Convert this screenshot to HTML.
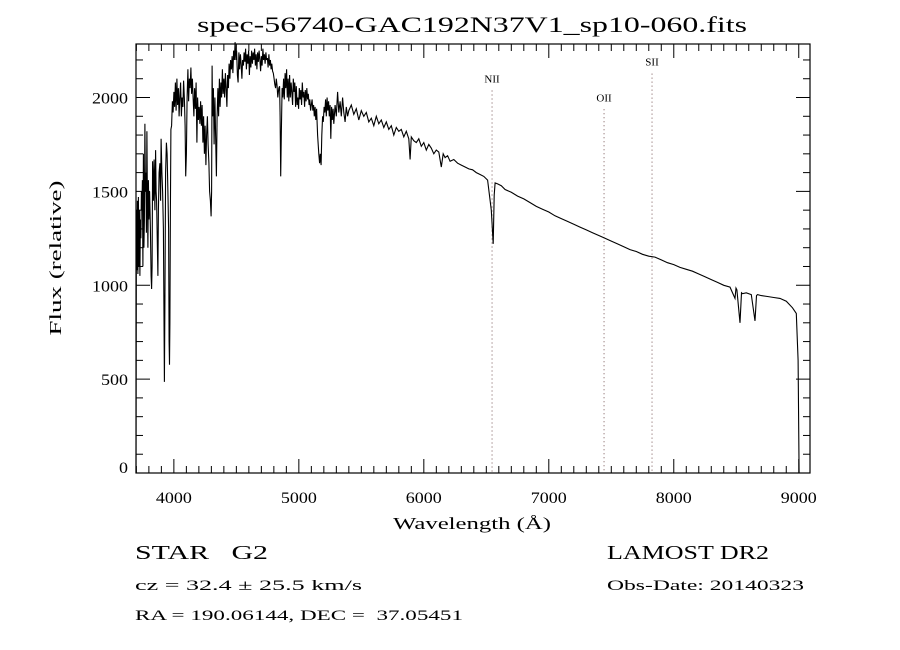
<!DOCTYPE html>
<html><head><meta charset="utf-8"><style>
html,body{margin:0;padding:0;background:#fff;}
svg{display:block;}
text{font-family:"Liberation Serif",serif;fill:#000;}
</style></head><body>
<svg id="chart" width="900" height="650" viewBox="0 0 900 650" xmlns="http://www.w3.org/2000/svg">
<rect width="900" height="650" fill="#fff"/>
<text x="197" y="32" font-size="22" textLength="550" lengthAdjust="spacingAndGlyphs">spec-56740-GAC192N37V1_sp10-060.fits</text>
<text transform="translate(61,258) rotate(-90)" font-size="17" text-anchor="middle" textLength="155" lengthAdjust="spacingAndGlyphs">Flux (relative)</text>
<text x="393" y="529" font-size="17" textLength="158" lengthAdjust="spacingAndGlyphs">Wavelength (Å)</text>
<text x="135" y="559" font-size="20" textLength="133" lengthAdjust="spacingAndGlyphs" xml:space="preserve">STAR   G2</text>
<text x="607" y="559" font-size="20" textLength="162" lengthAdjust="spacingAndGlyphs">LAMOST DR2</text>
<text x="135" y="590" font-size="15" textLength="227" lengthAdjust="spacingAndGlyphs">cz = 32.4 ± 25.5 km/s</text>
<text x="607" y="590" font-size="15" textLength="197" lengthAdjust="spacingAndGlyphs">Obs-Date: 20140323</text>
<text x="135" y="620" font-size="15" textLength="328" lengthAdjust="spacingAndGlyphs" xml:space="preserve">RA = 190.06144, DEC =  37.05451</text>
<g id="plot"></g>
</svg>
<script>
const xTicks = [4000,5000,6000,7000,8000,9000];
const yTicks = [0,500,1000,1500,2000];
const lineNames = ["NII","OII","SII"];
const lineWaves = [6546,7442,7826];
const lineLabelFlux = [2080,1980,2170];
const wave = [3697,3700,3704,3708,3712,3716,3720,3724,3728,3732,3736,3740,3744,3748,3752,3756,3760,3764,3768,3772,3776,3780,3784,3788,3792,3796,3800,3806,3812,3818,3822,3826,3830,3836,3842,3848,3854,3858,3862,3868,3872,3876,3882,3888,3894,3898,3904,3910,3916,3920,3924,3928,3934,3940,3946,3952,3958,3962,3965,3968,3972,3976,3982,3988,3994,4000,4006,4012,4018,4024,4030,4036,4042,4048,4054,4060,4066,4072,4078,4084,4090,4095,4100,4106,4112,4118,4124,4130,4136,4142,4148,4154,4160,4166,4172,4178,4184,4190,4196,4202,4208,4214,4220,4226,4232,4238,4244,4250,4256,4262,4268,4274,4280,4286,4292,4298,4302,4306,4310,4316,4322,4328,4334,4340,4346,4352,4358,4364,4370,4376,4382,4388,4394,4400,4406,4412,4418,4424,4430,4436,4442,4448,4454,4460,4466,4472,4478,4484,4490,4496,4502,4508,4514,4520,4526,4532,4538,4544,4550,4556,4562,4568,4574,4580,4586,4592,4598,4604,4610,4616,4622,4628,4634,4640,4646,4652,4658,4664,4670,4676,4682,4688,4694,4700,4706,4712,4718,4724,4730,4736,4742,4748,4754,4760,4766,4772,4778,4784,4790,4796,4802,4808,4814,4820,4826,4832,4840,4846,4850,4855,4860,4866,4872,4878,4884,4890,4896,4902,4908,4914,4920,4926,4932,4938,4944,4950,4956,4962,4968,4974,4980,4986,4992,4998,5004,5010,5016,5022,5028,5034,5040,5046,5052,5058,5064,5070,5076,5082,5088,5094,5100,5106,5112,5118,5124,5130,5136,5142,5150,5160,5166,5172,5178,5184,5190,5196,5202,5208,5214,5220,5226,5232,5238,5244,5250,5256,5262,5268,5274,5280,5290,5300,5310,5320,5330,5340,5350,5360,5370,5380,5390,5400,5420,5440,5460,5480,5500,5520,5540,5560,5580,5600,5620,5640,5660,5680,5700,5720,5740,5760,5780,5800,5820,5840,5860,5880,5890,5900,5920,5940,5960,5980,6000,6020,6040,6060,6080,6100,6120,6140,6155,6170,6190,6210,6240,6270,6300,6330,6360,6390,6420,6450,6480,6510,6540,6555,6563,6570,6590,6620,6650,6700,6750,6800,6850,6900,6950,7000,7050,7100,7150,7200,7250,7300,7350,7400,7450,7500,7550,7600,7650,7700,7750,7800,7850,7900,7950,8000,8050,8100,8150,8200,8250,8300,8350,8400,8450,8490,8498,8505,8530,8542,8550,8580,8620,8650,8662,8670,8700,8750,8800,8850,8900,8950,8980,8995,9003,9006];
const flux = [0,1400,1080,1450,1060,1470,1100,1400,1050,1350,1250,1500,1400,1560,1100,1700,1200,1350,1860,1500,1600,1280,1820,1450,1200,1560,1350,1500,1300,1050,980,1100,1660,1450,1670,1400,1720,1500,1450,1200,1050,1400,1600,1650,1450,1780,1600,1500,1300,900,485,900,1600,1760,1700,1500,1300,700,577,800,1400,1830,1850,1980,1920,2030,1950,2080,1930,2100,1960,2050,1900,2010,2080,1900,2000,1950,2090,1990,1850,1580,1700,2000,2150,1980,2100,2050,2160,2020,2100,2000,1900,2050,1940,2080,1760,2000,1880,1950,1860,1980,1850,1960,1760,1900,1700,1850,1640,1800,1900,1750,1650,1500,1450,1367,1500,2170,1900,2050,1750,2000,1800,1580,1900,2050,1900,2100,1950,2080,2000,2150,2020,2100,2000,2130,2050,1950,2120,2050,2180,2100,2200,2150,2220,2130,2250,2200,2295,2200,2250,2120,2080,2240,2150,2230,2180,2100,2200,2170,2240,2190,2260,2150,2230,2180,2250,2120,2220,2160,2250,2180,2240,2200,2260,2170,2230,2150,2240,2190,2250,2200,2140,2220,2170,2260,2200,2230,2180,2240,2200,2210,2160,2230,2170,2200,2150,2180,2140,2130,2100,2070,2050,2100,2060,2000,2050,2060,1900,1580,1800,2050,2000,2100,1990,2130,2050,2150,2000,2100,1980,2120,2000,2080,2030,1960,2100,2030,2080,1950,2060,1960,2000,1940,2050,1990,2040,1960,2080,2000,2030,1950,2040,1980,2050,1990,2020,1960,1990,1930,1960,1990,1930,1960,1900,1950,1880,1940,1800,1700,1650,1700,1640,1800,1900,1870,1950,1920,1990,1900,2000,1930,1980,1900,1960,1780,1950,1880,1940,1860,1960,1900,2030,1920,1980,1900,2000,1920,1870,1950,1900,1930,1960,1910,1940,1880,1930,1900,1920,1870,1890,1850,1900,1860,1880,1840,1870,1830,1850,1800,1840,1820,1830,1790,1820,1780,1670,1790,1770,1760,1780,1740,1760,1720,1750,1730,1700,1720,1710,1630,1700,1680,1690,1660,1670,1650,1640,1630,1620,1615,1600,1590,1580,1560,1400,1220,1480,1545,1540,1530,1510,1495,1475,1460,1440,1420,1405,1390,1370,1355,1340,1325,1310,1295,1280,1265,1250,1235,1220,1205,1190,1180,1165,1155,1150,1135,1120,1110,1095,1085,1075,1060,1045,1030,1015,1000,990,930,985,975,800,960,955,960,950,810,945,950,945,940,935,930,915,880,850,600,0];
const L = 136, R = 810, T = 44, B = 473;
const xMin = 3697, xMax = 9090, yMin = 0, yMax = 2285;
function xs(w){ return L + (w - xMin) / (xMax - xMin) * (R - L); }
function ys(f){ return B - (f - yMin) / (yMax - yMin) * (B - T); }
const NS = "http://www.w3.org/2000/svg";
const g = document.getElementById('plot');
function mk(tag, attrs){ const e = document.createElementNS(NS, tag); for (const k in attrs) e.setAttribute(k, attrs[k]); g.appendChild(e); return e; }
const frame = mk('rect', {x:L, y:T, width:R-L, height:B-T, fill:'none', stroke:'#000', 'stroke-width':1.2});


for (let w = 3700; w <= 9090; w += 100) {
  const x = xs(w), major = (w % 1000 === 0), len = major ? 14 : 7;
  const t1 = mk('line', {x1:x, y1:B, x2:x, y2:B-len, stroke:'#000', 'stroke-width':1});
  
  
  const t2 = mk('line', {x1:x, y1:T, x2:x, y2:T+len, stroke:'#000', 'stroke-width':1});
  
  
}
xTicks.forEach(v => {
  const t = mk('text', {x:xs(v), y:B+30, 'font-size':16, 'text-anchor':'middle', textLength:36, lengthAdjust:'spacingAndGlyphs'});
  t.textContent = v;
  
  
});
for (let f = 0; f <= 2285; f += 100) {
  const y = ys(f), major = (f % 500 === 0), len = major ? 14 : 7;
  const t1 = mk('line', {x1:L, y1:y, x2:L+len, y2:y, stroke:'#000', 'stroke-width':1});
  
  
  const t2 = mk('line', {x1:R, y1:y, x2:R-len, y2:y, stroke:'#000', 'stroke-width':1});
  
  
}
yTicks.forEach(v => {
  const s = String(v);
  const t = mk('text', {x:L-8, y:ys(v)+6 - (v===0?6:0), 'font-size':16, 'text-anchor':'end', textLength:9*s.length, lengthAdjust:'spacingAndGlyphs'});
  t.textContent = s;
  
  
});
lineNames.forEach((n, i) => {
  const x = xs(lineWaves[i]);
  const ln = mk('line', {x1:x, y1:ys(lineLabelFlux[i])+8, x2:x, y2:B, stroke:'#755', 'stroke-width':1, 'stroke-dasharray':'1,3'});
  
  
  const t = mk('text', {x:x, y:ys(lineLabelFlux[i]), 'font-size':11, 'text-anchor':'middle'});
  t.textContent = n;
  
  
});
let d = '';
wave.forEach((w, i) => { d += (i ? 'L' : 'M') + xs(w).toFixed(1) + ',' + ys(flux[i]).toFixed(1); });
const sp = mk('path', {d:d, fill:'none', stroke:'#000', 'stroke-width':1.1, 'stroke-linejoin':'miter'});


</script>
</body></html>
